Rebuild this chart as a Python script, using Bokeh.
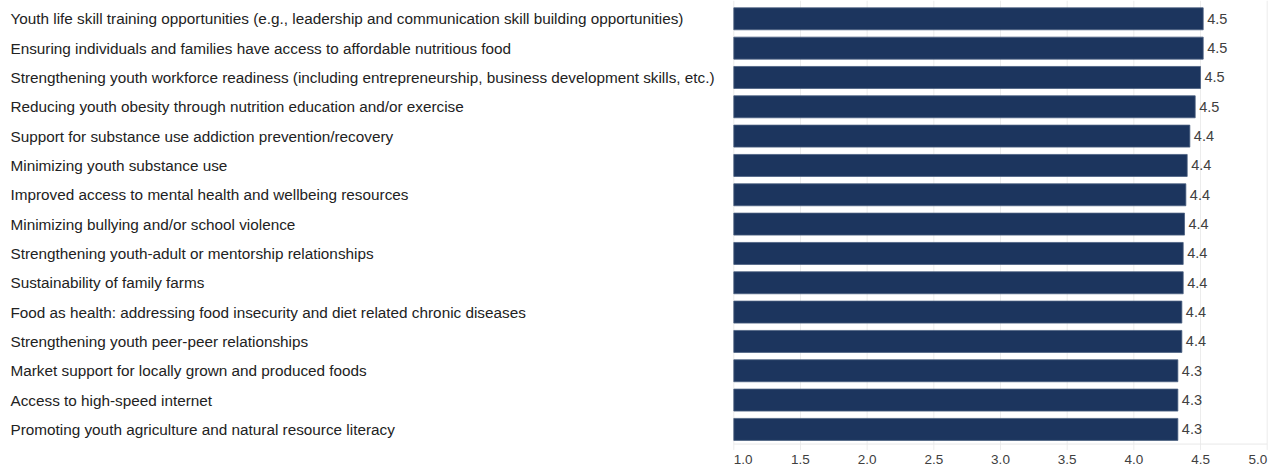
from bokeh.plotting import figure
from bokeh.models import ColumnDataSource, Range1d
from bokeh.core.properties import value
from bokeh.embed import file_html
from bokeh.resources import INLINE

categories = [
    "Youth life skill training opportunities (e.g., leadership and communication skill building opportunities)",
    "Ensuring individuals and families have access to affordable nutritious food",
    "Strengthening youth workforce readiness (including entrepreneurship, business development skills, etc.)",
    "Reducing youth obesity through nutrition education and/or exercise",
    "Support for substance use addiction prevention/recovery",
    "Minimizing youth substance use",
    "Improved access to mental health and wellbeing resources",
    "Minimizing bullying and/or school violence",
    "Strengthening youth-adult or mentorship relationships",
    "Sustainability of family farms",
    "Food as health: addressing food insecurity and diet related chronic diseases",
    "Strengthening youth peer-peer relationships",
    "Market support for locally grown and produced foods",
    "Access to high-speed internet",
    "Promoting youth agriculture and natural resource literacy",
]
values = [4.52, 4.52, 4.50, 4.46, 4.42, 4.40, 4.39, 4.38, 4.37, 4.37, 4.36, 4.36, 4.33, 4.33, 4.33]
value_labels = [f"{v:.1f}" for v in values]
x_ticks = [1.0, 1.5, 2.0, 2.5, 3.0, 3.5, 4.0, 4.5, 5.0]
tick_labels = [f"{t:.1f}" for t in x_ticks]
x_min, x_max = 1.0, 5.0

W, H = 1272, 468
axis_left_px = 733.3          # canvas x of value 1.0
axis_right_px = 1266.7        # canvas x of value 5.0
px_per_unit = (axis_right_px - axis_left_px) / (x_max - x_min)
x_start = x_min - axis_left_px / px_per_unit
x_end = x_max + (W - axis_right_px) / px_per_unit

pitch = 29.33
y_top = -18.3 / pitch
y_bottom = y_top + H / pitch

p = figure(width=W, height=H, output_backend="svg", toolbar_location=None,
           x_range=Range1d(x_start, x_end), y_range=Range1d(y_bottom, y_top),
           min_border=0, outline_line_color=None)
p.axis.visible = False
p.grid.visible = False
p.background_fill_color = "white"

n = len(categories)
rows = list(range(n))

# grid lines
grid_bottom = n - 0.5 + 0.2
p.segment(x0=x_ticks, x1=x_ticks, y0=[y_top] * len(x_ticks), y1=[grid_bottom] * len(x_ticks),
          line_color="#ececec", line_width=1)
# baseline
p.segment(x0=[x_min], x1=[x_max], y0=[n - 0.5], y1=[n - 0.5], line_color="#e8e8e8", line_width=1)

src = ColumnDataSource(dict(y=rows, v=values, lab=value_labels, cat=categories))
p.hbar(y="y", left=x_min, right="v", height=0.75, source=src,
       fill_color="#1c355e", line_color="#4a5f80", line_width=0.8)

font = value("Liberation Sans")
p.text(x="v", y="y", text="lab", source=src, x_offset=4, text_align="left",
       text_baseline="middle", text_font=font, text_font_size="14.5px", text_color="#404040")

label_x = x_start + 10 / px_per_unit
p.text(x=[label_x] * n, y=rows, text=categories, text_align="left", text_baseline="middle",
       text_font=font, text_font_size="15.3px", text_color="#222222")

tick_y = y_top + 459 / pitch
aligns = ["left"] + ["center"] * (len(x_ticks) - 2) + ["right"]
tsrc = ColumnDataSource(dict(x=x_ticks, y=[tick_y] * len(x_ticks), t=tick_labels, a=aligns))
p.text(x="x", y="y", text="t", text_align="a", source=tsrc,
       text_baseline="middle", text_font=font, text_font_size="13.5px", text_color="#404040")

open("out.html", "w").write(file_html(p, INLINE))
